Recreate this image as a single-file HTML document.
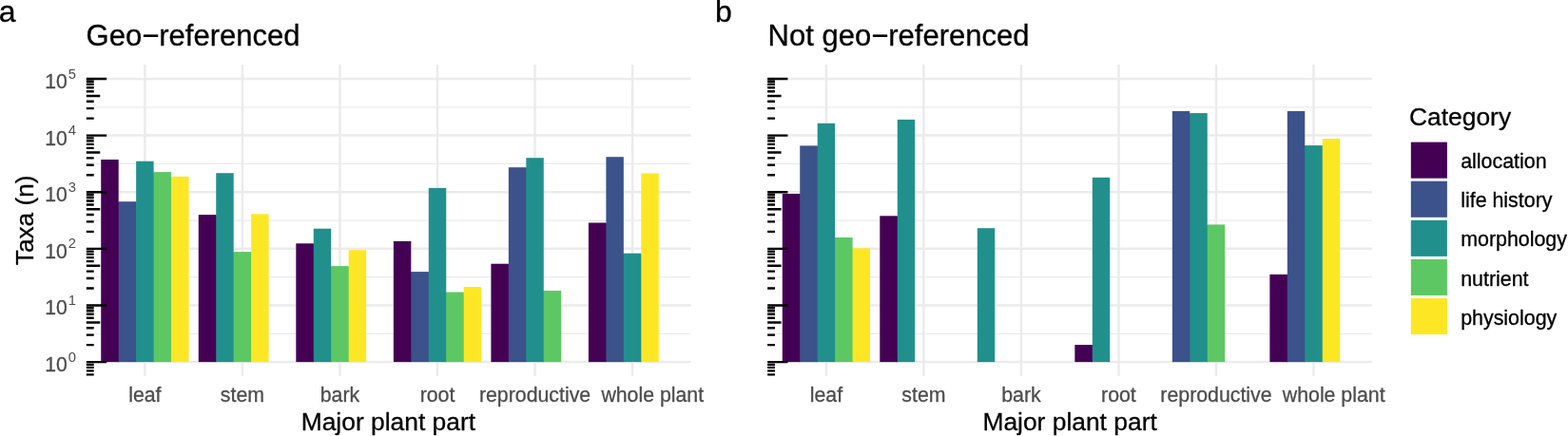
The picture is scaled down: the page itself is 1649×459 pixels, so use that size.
<!DOCTYPE html>
<html lang="en"><head><meta charset="utf-8"><title>Taxa by major plant part</title>
<style>
html,body{margin:0;padding:0;background:#fff}
body{width:1649px;height:459px;overflow:hidden}
svg{display:block;font-family:"Liberation Sans",Arial,Helvetica,sans-serif}
text{stroke-width:0.3px;stroke-linejoin:round}
text[fill="#000"]{stroke:#000}
text[fill="#4D4D4D"]{stroke:#4D4D4D}
</style></head><body>
<svg width="1649" height="459" viewBox="0 0 1649 459">
<rect width="1649" height="459" fill="#fff"/>
<line x1="90.85" x2="726.60" y1="351.29" y2="351.29" stroke="#EBEBEB" stroke-width="1.25"/>
<line x1="90.85" x2="726.60" y1="291.67" y2="291.67" stroke="#EBEBEB" stroke-width="1.25"/>
<line x1="90.85" x2="726.60" y1="232.05" y2="232.05" stroke="#EBEBEB" stroke-width="1.25"/>
<line x1="90.85" x2="726.60" y1="172.43" y2="172.43" stroke="#EBEBEB" stroke-width="1.25"/>
<line x1="90.85" x2="726.60" y1="112.81" y2="112.81" stroke="#EBEBEB" stroke-width="1.25"/>
<line x1="90.85" x2="726.60" y1="381.10" y2="381.10" stroke="#EBEBEB" stroke-width="2.5"/>
<line x1="90.85" x2="726.60" y1="321.48" y2="321.48" stroke="#EBEBEB" stroke-width="2.5"/>
<line x1="90.85" x2="726.60" y1="261.86" y2="261.86" stroke="#EBEBEB" stroke-width="2.5"/>
<line x1="90.85" x2="726.60" y1="202.24" y2="202.24" stroke="#EBEBEB" stroke-width="2.5"/>
<line x1="90.85" x2="726.60" y1="142.62" y2="142.62" stroke="#EBEBEB" stroke-width="2.5"/>
<line x1="90.85" x2="726.60" y1="83.00" y2="83.00" stroke="#EBEBEB" stroke-width="2.5"/>
<line x1="152.37" x2="152.37" y1="68.00" y2="395.70" stroke="#EBEBEB" stroke-width="2.5"/>
<line x1="254.91" x2="254.91" y1="68.00" y2="395.70" stroke="#EBEBEB" stroke-width="2.5"/>
<line x1="357.45" x2="357.45" y1="68.00" y2="395.70" stroke="#EBEBEB" stroke-width="2.5"/>
<line x1="460.00" x2="460.00" y1="68.00" y2="395.70" stroke="#EBEBEB" stroke-width="2.5"/>
<line x1="562.54" x2="562.54" y1="68.00" y2="395.70" stroke="#EBEBEB" stroke-width="2.5"/>
<line x1="665.08" x2="665.08" y1="68.00" y2="395.70" stroke="#EBEBEB" stroke-width="2.5"/>
<rect x="123.99" y="212.70" width="1.4" height="168.40" fill="#440154"/>
<rect x="142.45" y="212.70" width="1.4" height="168.40" fill="#3B528B"/>
<rect x="160.90" y="181.60" width="1.4" height="199.50" fill="#21908C"/>
<rect x="179.36" y="186.30" width="1.4" height="194.80" fill="#5DC863"/>
<rect x="106.23" y="168.00" width="18.46" height="213.10" fill="#440154"/>
<rect x="124.69" y="212.20" width="18.46" height="168.90" fill="#3B528B"/>
<rect x="143.15" y="169.70" width="18.46" height="211.40" fill="#21908C"/>
<rect x="161.60" y="181.10" width="18.46" height="200.00" fill="#5DC863"/>
<rect x="180.06" y="185.80" width="18.46" height="195.30" fill="#FDE725"/>
<rect x="226.53" y="226.60" width="1.4" height="154.50" fill="#440154"/>
<rect x="244.99" y="265.60" width="1.4" height="115.50" fill="#21908C"/>
<rect x="263.44" y="265.60" width="1.4" height="115.50" fill="#5DC863"/>
<rect x="208.77" y="226.10" width="18.46" height="155.00" fill="#440154"/>
<rect x="227.23" y="182.20" width="18.46" height="198.90" fill="#21908C"/>
<rect x="245.69" y="265.10" width="18.46" height="116.00" fill="#5DC863"/>
<rect x="264.14" y="225.30" width="18.46" height="155.80" fill="#FDE725"/>
<rect x="329.07" y="256.80" width="1.4" height="124.30" fill="#440154"/>
<rect x="347.53" y="280.60" width="1.4" height="100.50" fill="#21908C"/>
<rect x="365.98" y="280.60" width="1.4" height="100.50" fill="#5DC863"/>
<rect x="311.31" y="256.30" width="18.46" height="124.80" fill="#440154"/>
<rect x="329.77" y="240.70" width="18.46" height="140.40" fill="#21908C"/>
<rect x="348.23" y="280.10" width="18.46" height="101.00" fill="#5DC863"/>
<rect x="366.68" y="263.20" width="18.46" height="117.90" fill="#FDE725"/>
<rect x="431.61" y="286.60" width="1.4" height="94.50" fill="#440154"/>
<rect x="450.07" y="286.60" width="1.4" height="94.50" fill="#3B528B"/>
<rect x="468.52" y="308.00" width="1.4" height="73.10" fill="#21908C"/>
<rect x="486.98" y="308.00" width="1.4" height="73.10" fill="#5DC863"/>
<rect x="413.85" y="253.90" width="18.46" height="127.20" fill="#440154"/>
<rect x="432.31" y="286.10" width="18.46" height="95.00" fill="#3B528B"/>
<rect x="450.77" y="197.90" width="18.46" height="183.20" fill="#21908C"/>
<rect x="469.22" y="307.50" width="18.46" height="73.60" fill="#5DC863"/>
<rect x="487.68" y="302.00" width="18.46" height="79.10" fill="#FDE725"/>
<rect x="534.15" y="278.20" width="1.4" height="102.90" fill="#440154"/>
<rect x="552.61" y="176.70" width="1.4" height="204.40" fill="#3B528B"/>
<rect x="571.06" y="306.50" width="1.4" height="74.60" fill="#21908C"/>
<rect x="516.39" y="277.70" width="18.46" height="103.40" fill="#440154"/>
<rect x="534.85" y="176.20" width="18.46" height="204.90" fill="#3B528B"/>
<rect x="553.31" y="166.20" width="18.46" height="214.90" fill="#21908C"/>
<rect x="571.76" y="306.00" width="18.46" height="75.10" fill="#5DC863"/>
<rect x="636.69" y="235.00" width="1.4" height="146.10" fill="#440154"/>
<rect x="655.15" y="267.20" width="1.4" height="113.90" fill="#3B528B"/>
<rect x="673.60" y="267.20" width="1.4" height="113.90" fill="#21908C"/>
<rect x="618.93" y="234.50" width="18.46" height="146.60" fill="#440154"/>
<rect x="637.39" y="165.20" width="18.46" height="215.90" fill="#3B528B"/>
<rect x="655.85" y="266.70" width="18.46" height="114.40" fill="#21908C"/>
<rect x="674.30" y="182.40" width="18.46" height="198.70" fill="#FDE725"/>
<path d="M90.85 394.33h7.85M90.85 390.34h7.85M90.85 386.88h7.85M90.85 383.83h7.85M90.85 381.10h21.3M90.85 363.15h7.85M90.85 352.65h7.85M90.85 345.21h7.85M90.85 339.43h14.4M90.85 334.71h7.85M90.85 330.72h7.85M90.85 327.26h7.85M90.85 324.21h7.85M90.85 321.48h21.3M90.85 303.53h7.85M90.85 293.03h7.85M90.85 285.59h7.85M90.85 279.81h14.4M90.85 275.09h7.85M90.85 271.10h7.85M90.85 267.64h7.85M90.85 264.59h7.85M90.85 261.86h21.3M90.85 243.91h7.85M90.85 233.41h7.85M90.85 225.97h7.85M90.85 220.19h14.4M90.85 215.47h7.85M90.85 211.48h7.85M90.85 208.02h7.85M90.85 204.97h7.85M90.85 202.24h21.3M90.85 184.29h7.85M90.85 173.79h7.85M90.85 166.35h7.85M90.85 160.57h14.4M90.85 155.85h7.85M90.85 151.86h7.85M90.85 148.40h7.85M90.85 145.35h7.85M90.85 142.62h21.3M90.85 124.67h7.85M90.85 114.17h7.85M90.85 106.73h7.85M90.85 100.95h14.4M90.85 96.23h7.85M90.85 92.24h7.85M90.85 88.78h7.85M90.85 85.73h7.85M90.85 83.00h21.3" stroke="#000" stroke-width="2.4" fill="none"/>
<text x="90.60" y="48.2" font-size="31.0" fill="#000">Geo−referenced</text>
<text x="-1.3" y="22.6" font-size="32" fill="#000">a</text>
<text x="152.37" y="423.1" font-size="21.3" fill="#4D4D4D" text-anchor="middle">leaf</text>
<text x="254.91" y="423.1" font-size="21.3" fill="#4D4D4D" text-anchor="middle">stem</text>
<text x="357.45" y="423.1" font-size="21.3" fill="#4D4D4D" text-anchor="middle">bark</text>
<text x="460.00" y="423.1" font-size="21.3" fill="#4D4D4D" text-anchor="middle">root</text>
<text x="562.54" y="423.1" font-size="21.3" fill="#4D4D4D" text-anchor="middle">reproductive</text>
<text x="686.28" y="423.1" font-size="21.3" fill="#4D4D4D" text-anchor="middle">whole plant</text>
<text x="408.38" y="452.8" font-size="26.4" fill="#000" text-anchor="middle">Major plant part</text>
<text x="47.32" y="391.00" font-size="21.2" fill="#4D4D4D">10<tspan dx="0.8" dy="-10.4" font-size="14.8" style="stroke:none">0</tspan></text>
<text x="47.32" y="331.38" font-size="21.2" fill="#4D4D4D">10<tspan dx="0.8" dy="-10.4" font-size="14.8" style="stroke:none">1</tspan></text>
<text x="47.32" y="271.76" font-size="21.2" fill="#4D4D4D">10<tspan dx="0.8" dy="-10.4" font-size="14.8" style="stroke:none">2</tspan></text>
<text x="47.32" y="212.14" font-size="21.2" fill="#4D4D4D">10<tspan dx="0.8" dy="-10.4" font-size="14.8" style="stroke:none">3</tspan></text>
<text x="47.32" y="152.52" font-size="21.2" fill="#4D4D4D">10<tspan dx="0.8" dy="-10.4" font-size="14.8" style="stroke:none">4</tspan></text>
<text x="47.32" y="92.90" font-size="21.2" fill="#4D4D4D">10<tspan dx="0.8" dy="-10.4" font-size="14.8" style="stroke:none">5</tspan></text>
<text transform="translate(34.5,231.85) rotate(-90)" font-size="26.2" fill="#000" text-anchor="middle">Taxa (n)</text>
<line x1="807.40" x2="1443.00" y1="351.29" y2="351.29" stroke="#EBEBEB" stroke-width="1.25"/>
<line x1="807.40" x2="1443.00" y1="291.67" y2="291.67" stroke="#EBEBEB" stroke-width="1.25"/>
<line x1="807.40" x2="1443.00" y1="232.05" y2="232.05" stroke="#EBEBEB" stroke-width="1.25"/>
<line x1="807.40" x2="1443.00" y1="172.43" y2="172.43" stroke="#EBEBEB" stroke-width="1.25"/>
<line x1="807.40" x2="1443.00" y1="112.81" y2="112.81" stroke="#EBEBEB" stroke-width="1.25"/>
<line x1="807.40" x2="1443.00" y1="381.10" y2="381.10" stroke="#EBEBEB" stroke-width="2.5"/>
<line x1="807.40" x2="1443.00" y1="321.48" y2="321.48" stroke="#EBEBEB" stroke-width="2.5"/>
<line x1="807.40" x2="1443.00" y1="261.86" y2="261.86" stroke="#EBEBEB" stroke-width="2.5"/>
<line x1="807.40" x2="1443.00" y1="202.24" y2="202.24" stroke="#EBEBEB" stroke-width="2.5"/>
<line x1="807.40" x2="1443.00" y1="142.62" y2="142.62" stroke="#EBEBEB" stroke-width="2.5"/>
<line x1="807.40" x2="1443.00" y1="83.00" y2="83.00" stroke="#EBEBEB" stroke-width="2.5"/>
<line x1="868.91" x2="868.91" y1="68.00" y2="395.70" stroke="#EBEBEB" stroke-width="2.5"/>
<line x1="971.43" x2="971.43" y1="68.00" y2="395.70" stroke="#EBEBEB" stroke-width="2.5"/>
<line x1="1073.94" x2="1073.94" y1="68.00" y2="395.70" stroke="#EBEBEB" stroke-width="2.5"/>
<line x1="1176.46" x2="1176.46" y1="68.00" y2="395.70" stroke="#EBEBEB" stroke-width="2.5"/>
<line x1="1278.97" x2="1278.97" y1="68.00" y2="395.70" stroke="#EBEBEB" stroke-width="2.5"/>
<line x1="1381.49" x2="1381.49" y1="68.00" y2="395.70" stroke="#EBEBEB" stroke-width="2.5"/>
<rect x="840.53" y="204.50" width="1.4" height="176.60" fill="#440154"/>
<rect x="858.98" y="153.90" width="1.4" height="227.20" fill="#3B528B"/>
<rect x="877.44" y="250.50" width="1.4" height="130.60" fill="#21908C"/>
<rect x="895.89" y="261.80" width="1.4" height="119.30" fill="#5DC863"/>
<rect x="822.78" y="204.00" width="18.45" height="177.10" fill="#440154"/>
<rect x="841.23" y="153.40" width="18.45" height="227.70" fill="#3B528B"/>
<rect x="859.68" y="129.80" width="18.45" height="251.30" fill="#21908C"/>
<rect x="878.14" y="250.00" width="18.45" height="131.10" fill="#5DC863"/>
<rect x="896.59" y="261.30" width="18.45" height="119.80" fill="#FDE725"/>
<rect x="943.05" y="227.80" width="1.4" height="153.30" fill="#440154"/>
<rect x="925.29" y="227.30" width="18.45" height="153.80" fill="#440154"/>
<rect x="943.75" y="125.90" width="18.45" height="255.20" fill="#21908C"/>
<rect x="1027.81" y="240.20" width="18.45" height="140.90" fill="#21908C"/>
<rect x="1148.08" y="363.50" width="1.4" height="17.60" fill="#440154"/>
<rect x="1130.33" y="363.00" width="18.45" height="18.10" fill="#440154"/>
<rect x="1148.78" y="186.90" width="18.45" height="194.20" fill="#21908C"/>
<rect x="1250.59" y="119.60" width="1.4" height="261.50" fill="#3B528B"/>
<rect x="1269.05" y="236.90" width="1.4" height="144.20" fill="#21908C"/>
<rect x="1232.84" y="117.00" width="18.45" height="264.10" fill="#3B528B"/>
<rect x="1251.29" y="119.10" width="18.45" height="262.00" fill="#21908C"/>
<rect x="1269.75" y="236.40" width="18.45" height="144.70" fill="#5DC863"/>
<rect x="1353.11" y="289.40" width="1.4" height="91.70" fill="#440154"/>
<rect x="1371.56" y="153.60" width="1.4" height="227.50" fill="#3B528B"/>
<rect x="1390.02" y="153.60" width="1.4" height="227.50" fill="#21908C"/>
<rect x="1335.36" y="288.90" width="18.45" height="92.20" fill="#440154"/>
<rect x="1353.81" y="117.00" width="18.45" height="264.10" fill="#3B528B"/>
<rect x="1372.26" y="153.10" width="18.45" height="228.00" fill="#21908C"/>
<rect x="1390.72" y="146.00" width="18.45" height="235.10" fill="#FDE725"/>
<path d="M807.15 394.33h7.85M807.15 390.34h7.85M807.15 386.88h7.85M807.15 383.83h7.85M807.15 381.10h21.3M807.15 363.15h7.85M807.15 352.65h7.85M807.15 345.21h7.85M807.15 339.43h14.4M807.15 334.71h7.85M807.15 330.72h7.85M807.15 327.26h7.85M807.15 324.21h7.85M807.15 321.48h21.3M807.15 303.53h7.85M807.15 293.03h7.85M807.15 285.59h7.85M807.15 279.81h14.4M807.15 275.09h7.85M807.15 271.10h7.85M807.15 267.64h7.85M807.15 264.59h7.85M807.15 261.86h21.3M807.15 243.91h7.85M807.15 233.41h7.85M807.15 225.97h7.85M807.15 220.19h14.4M807.15 215.47h7.85M807.15 211.48h7.85M807.15 208.02h7.85M807.15 204.97h7.85M807.15 202.24h21.3M807.15 184.29h7.85M807.15 173.79h7.85M807.15 166.35h7.85M807.15 160.57h14.4M807.15 155.85h7.85M807.15 151.86h7.85M807.15 148.40h7.85M807.15 145.35h7.85M807.15 142.62h21.3M807.15 124.67h7.85M807.15 114.17h7.85M807.15 106.73h7.85M807.15 100.95h14.4M807.15 96.23h7.85M807.15 92.24h7.85M807.15 88.78h7.85M807.15 85.73h7.85M807.15 83.00h21.3" stroke="#000" stroke-width="2.4" fill="none"/>
<text x="807.60" y="48.2" font-size="31.0" fill="#000">Not geo−referenced</text>
<text x="752" y="22.6" font-size="32" fill="#000">b</text>
<text x="868.91" y="423.1" font-size="21.3" fill="#4D4D4D" text-anchor="middle">leaf</text>
<text x="971.43" y="423.1" font-size="21.3" fill="#4D4D4D" text-anchor="middle">stem</text>
<text x="1073.94" y="423.1" font-size="21.3" fill="#4D4D4D" text-anchor="middle">bark</text>
<text x="1176.46" y="423.1" font-size="21.3" fill="#4D4D4D" text-anchor="middle">root</text>
<text x="1278.97" y="423.1" font-size="21.3" fill="#4D4D4D" text-anchor="middle">reproductive</text>
<text x="1402.69" y="423.1" font-size="21.3" fill="#4D4D4D" text-anchor="middle">whole plant</text>
<text x="1125.10" y="452.8" font-size="26.4" fill="#000" text-anchor="middle">Major plant part</text>
<text x="1482.0" y="132.1" font-size="26.4" fill="#000">Category</text>
<rect x="1483.8" y="149.60" width="38.1" height="38.1" fill="#440154"/>
<text x="1536.2" y="177.20" font-size="21.4" fill="#000">allocation</text>
<rect x="1483.8" y="190.70" width="38.1" height="38.1" fill="#3B528B"/>
<text x="1536.2" y="218.30" font-size="21.4" fill="#000">life history</text>
<rect x="1483.8" y="231.80" width="38.1" height="38.1" fill="#21908C"/>
<text x="1536.2" y="259.40" font-size="21.4" fill="#000">morphology</text>
<rect x="1483.8" y="272.90" width="38.1" height="38.1" fill="#5DC863"/>
<text x="1536.2" y="300.50" font-size="21.4" fill="#000">nutrient</text>
<rect x="1483.8" y="314.00" width="38.1" height="38.1" fill="#FDE725"/>
<text x="1536.2" y="341.60" font-size="21.4" fill="#000">physiology</text>
</svg>
</body></html>
